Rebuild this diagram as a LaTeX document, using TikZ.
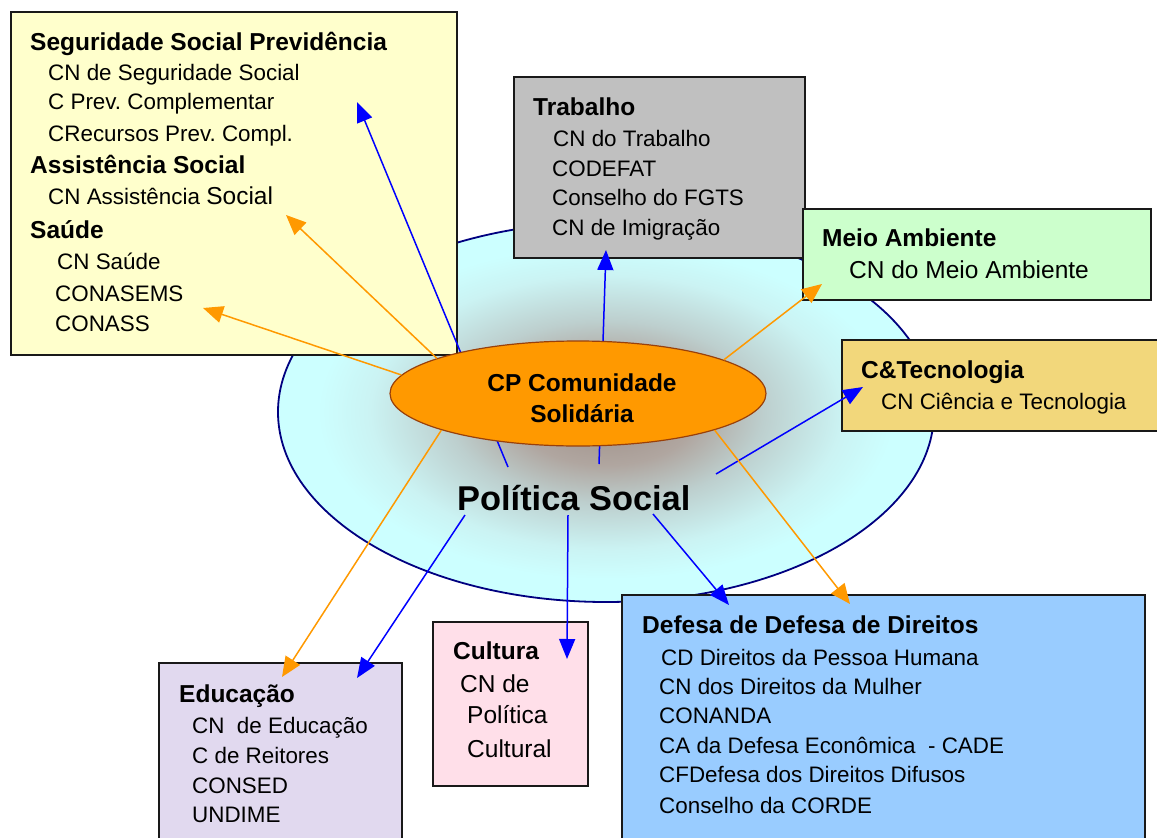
\documentclass[tikz,border=0pt]{standalone}
\usepackage{fontspec}
\setmainfont{Liberation Sans}
\usetikzlibrary{shapes.geometric,arrows.meta}
\frenchspacing

% palette
\definecolor{cyanbg}{HTML}{CCFFFF}
\definecolor{glowA}{HTML}{9C8C84}
\definecolor{glowB}{HTML}{B0A6A0}
\definecolor{glowC}{HTML}{BDCFCE}
\definecolor{glowD}{HTML}{CBF3F3}
\definecolor{rimnavy}{HTML}{000080}
\definecolor{linkblue}{HTML}{0000FF}
\definecolor{linkorange}{HTML}{FF9900}
\definecolor{cpfill}{HTML}{FF9900}
\definecolor{cprim}{HTML}{99400A}
\definecolor{segfill}{HTML}{FFFFCC}
\definecolor{trabfill}{HTML}{C0C0C0}
\definecolor{meiofill}{HTML}{CCFFCC}
\definecolor{ctfill}{HTML}{F2D77B}
\definecolor{deffill}{HTML}{99CCFF}
\definecolor{edufill}{HTML}{E1D9EF}
\definecolor{cultfill}{HTML}{FFDFE9}

% soft glow of the policy field (25bp = rim of the filled path)
\pgfdeclareradialshading{psglow}{\pgfpoint{0bp}{0bp}}{%
  color(0bp)=(glowA); color(7bp)=(glowB); color(12bp)=(glowC);
  color(18bp)=(glowD); color(22bp)=(cyanbg); color(25bp)=(cyanbg); color(50bp)=(cyanbg)}

\newcommand\hdf{\fontsize{24.5}{28}\selectfont\bfseries}
\newcommand\itf{\fontsize{22.4}{26}\selectfont}
\newcommand\itlf{\fontsize{24.5}{28}\selectfont}

\begin{document}
\begin{tikzpicture}[x=1pt,y=-1pt,
  panel/.style={draw=black!90, line width=1.6pt, anchor=north west, inner sep=0pt, outer sep=0pt},
  hd/.style={anchor=base west, inner sep=0pt, font=\hdf},
  it/.style={anchor=base west, inner sep=0pt, font=\itf},
  itl/.style={anchor=base west, inner sep=0pt, font=\itlf},
  cptext/.style={anchor=base, inner sep=0pt, font=\hdf},
  bluearrow/.style={draw=linkblue, line width=1.5pt, -{Triangle[length=20pt,width=16pt]}},
  orangearrow/.style={draw=linkorange, line width=1.5pt, -{Triangle[length=20pt,width=17pt]}},
]
\useasboundingbox (0,0) rectangle (1157,838);
\clip (0,0) rectangle (1157,838);

% policy field
\shadedraw[shading=psglow, draw=rimnavy, line width=1.8pt]
  (606,412) ellipse [x radius=328pt, y radius=190pt];

% council panels
\node[panel, fill=segfill,  minimum width=446pt, minimum height=343pt] (seg)  at (11,12)  {};
\node[panel, fill=trabfill, minimum width=291pt, minimum height=181pt] (trab) at (514,77) {};
\node[panel, fill=meiofill, minimum width=348pt, minimum height=91pt]  (meio) at (803,209) {};
\node[panel, fill=ctfill,   minimum width=340pt, minimum height=91pt]  (ct)   at (842,340) {};
\node[panel, fill=deffill,  minimum width=523pt, minimum height=260pt] (def)  at (622,595) {};
\node[panel, fill=edufill,  minimum width=243pt, minimum height=200pt] (edu)  at (159,663) {};
\node[panel, fill=cultfill, minimum width=155pt, minimum height=164pt] (cult) at (433,622) {};

% Seguridade Social / Assistencia / Saude
\node[hd] (seg-h1) at (30,50)  {Seguridade Social Previdência};
\node[it] (seg-a1) at (48,80)  {CN de Seguridade Social};
\node[it] (seg-a2) at (48,109) {C Prev. Complementar};
\node[it] (seg-a3) at (48,141) {CRecursos Prev. Compl.};
\node[hd] (seg-h2) at (30,173) {Assistência Social};
\node[it] (seg-b1) at (48,204) {CN Assistência {\itlf Social}};
\node[hd] (seg-h3) at (30,238) {Saúde};
\node[it] (seg-c1) at (57,269) {CN Saúde};
\node[it] (seg-c2) at (55,301) {CONASEMS};
\node[it] (seg-c3) at (55,331) {CONASS};

% Trabalho
\node[hd] (trab-h) at (533,115) {Trabalho};
\node[it] (trab-1) at (553,146) {CN do Trabalho};
\node[it] (trab-2) at (552,176) {CODEFAT};
\node[it] (trab-3) at (552,205) {Conselho do FGTS};
\node[it] (trab-4) at (552,235) {CN de Imigração};

% Meio Ambiente
\node[hd]  (meio-h) at (822,246) {Meio Ambiente};
\node[itl] (meio-1) at (849,278) {CN do Meio Ambiente};

% Ciencia e Tecnologia
\node[hd] (ct-h) at (861,378) {C\&Tecnologia};
\node[it] (ct-1) at (881,409) {CN Ciência e Tecnologia};

% Defesa de Direitos
\node[hd] (def-h) at (642,633) {Defesa de Defesa de Direitos};
\node[it] (def-1) at (661,665) {CD Direitos da Pessoa Humana};
\node[it] (def-2) at (659,694) {CN dos Direitos da Mulher};
\node[it] (def-3) at (659,723) {CONANDA};
\node[it] (def-4) at (659,753) {CA da Defesa Econômica\ \ - CADE};
\node[it] (def-5) at (659,782) {CFDefesa dos Direitos Difusos};
\node[it] (def-6) at (659,813) {Conselho da CORDE};

% Educacao
\node[hd] (edu-h) at (179,702) {Educação};
\node[it] (edu-1) at (192,733) {CN\ \ de Educação};
\node[it] (edu-2) at (192,763) {C de Reitores};
\node[it] (edu-3) at (192,793) {CONSED};
\node[it] (edu-4) at (192,822) {UNDIME};

% Cultura
\node[hd]  (cult-h) at (453,659) {Cultura};
\node[itl] (cult-1) at (460,692) {CN de};
\node[itl] (cult-2) at (467,723) {Política};
\node[itl] (cult-3) at (467,757) {Cultural};

% centre label
\node[anchor=base west, inner sep=0pt, font=\fontsize{34.4}{40}\selectfont\bfseries] (ps) at (457,510) {Política Social};

% ends of the links
\coordinate (ps-seg)  at (508,467);
\coordinate (ps-trab) at (599,464);
\coordinate (ps-ct)   at (716,474);
\coordinate (ps-edu)  at (465,515);
\coordinate (ps-cult) at (568,515);
\coordinate (ps-def)  at (653,514);

\coordinate (in-seg)  at (357,102);
\coordinate (in-trab) at (606,250);
\coordinate (in-ct)   at (863,387);
\coordinate (in-edu)  at (357,678);
\coordinate (in-cult) at (567,659);
\coordinate (in-def)  at (729,605);

\coordinate (in-sau)  at (203,308);
\coordinate (in-ass)  at (286,215);
\coordinate (in-meio) at (822,284);
\coordinate (in-edu2) at (282,677);
\coordinate (in-def2) at (850,604);

% blue links from the policy label (pass behind the CP ellipse)
\draw[bluearrow] (ps-seg)  -- (in-seg);
\draw[bluearrow] (ps-trab) -- (in-trab);
\draw[bluearrow] (ps-ct)   -- (in-ct);
\draw[bluearrow] (ps-edu)  -- (in-edu);
\draw[bluearrow] (ps-cult) -- (in-cult);
\draw[bluearrow] (ps-def)  -- (in-def);

% CP Comunidade Solidaria
\node[ellipse, draw=cprim, line width=1.2pt, fill=cpfill, minimum width=376pt, minimum height=105pt,
      inner sep=0pt] (cp) at (578,393.5) {};
\node[cptext] (cp-l1) at (582,391) {CP Comunidade};
\node[cptext] (cp-l2) at (582,422) {Solidária};

% orange links from the CP ellipse
\draw[orangearrow] (cp.174.8) -- (in-sau);
\draw[orangearrow] (cp.166)   -- (in-ass);
\draw[orangearrow] (cp.13.6)  -- (in-meio);
\draw[orangearrow] (cp.195.1) -- (in-edu2);
\draw[orangearrow] (cp.-15.7) -- (in-def2);
\end{tikzpicture}
\end{document}
